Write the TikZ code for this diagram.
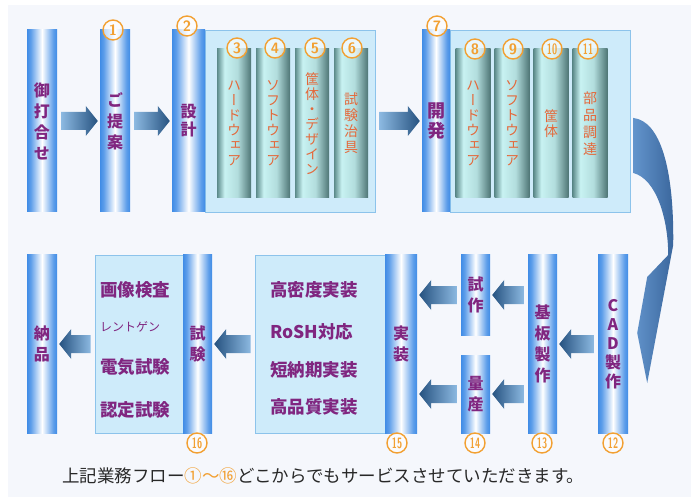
\documentclass[tikz,border=0pt]{standalone}
\usepackage{fontspec}
\usetikzlibrary{calc}
\newfontfamily\jp{Noto Sans CJK JP}
\newfontfamily\jpv[RawFeature=+vert]{Noto Sans CJK JP}

\definecolor{pblue}{RGB}{64,140,230}
\definecolor{tdark}{RGB}{92,138,138}
\definecolor{tlight}{RGB}{200,242,242}
\definecolor{boxfill}{RGB}{206,235,250}
\definecolor{boxline}{RGB}{140,195,235}
\definecolor{purp}{RGB}{128,38,128}
\definecolor{orng}{RGB}{228,104,58}
\definecolor{numo}{RGB}{242,160,50}
\definecolor{alight}{RGB}{140,185,225}
\definecolor{adark}{RGB}{38,82,128}
\definecolor{cdark}{RGB}{58,102,156}
\definecolor{clight}{RGB}{98,148,204}
\definecolor{bgpanel}{RGB}{245,247,252}
\definecolor{captxt}{RGB}{40,40,40}

\pgfdeclarehorizontalshading{bluepil}{100bp}{color(0bp)=(pblue); color(25bp)=(pblue); color(31bp)=(pblue!85); color(50bp)=(white); color(69bp)=(pblue!85); color(75bp)=(pblue); color(100bp)=(pblue)}
\pgfdeclarehorizontalshading{tealpil}{100bp}{color(0bp)=(tdark); color(25bp)=(tdark); color(36bp)=(tlight); color(55bp)=(tlight!80!tdark); color(75bp)=(tdark!85!black); color(100bp)=(tdark!85!black)}

% block arrows, drawn from node to node
\newcommand{\rarrow}[2]{%
	\shade[left color=alight,right color=adark]
		($(#1)+(4,9)$) -- ($(#2)+(-14,9)$) -- ($(#2)+(-14,15)$) -- ($(#2)+(-2,0)$)
		-- ($(#2)+(-14,-15)$) -- ($(#2)+(-14,-9)$) -- ($(#1)+(4,-9)$) -- cycle;}
\newcommand{\larrow}[2]{%
	\shade[left color=adark,right color=alight]
		($(#1)+(-4,9)$) -- ($(#2)+(14,9)$) -- ($(#2)+(14,15)$) -- ($(#2)+(2,0)$)
		-- ($(#2)+(14,-15)$) -- ($(#2)+(14,-9)$) -- ($(#1)+(-4,-9)$) -- cycle;}

\begin{document}
\begin{tikzpicture}[x=1pt,y=1pt,
	bpil/.style={shade,shading=bluepil,minimum width=30pt,minimum height=182pt,text=purp,align=center,font=\jpv\bfseries\fontsize{16}{21}\selectfont},
	tpil/.style={shade,shading=tealpil,minimum width=34pt,minimum height=149pt,text=orng,align=center,font=\jpv\fontsize{14}{15}\selectfont},
	gbox/.style={fill=boxfill,draw=boxline,line width=0.8pt},
	numc/.style={circle,draw=numo,line width=1.4pt,fill=white,fill opacity=0.6,text opacity=1,text=numo,minimum size=20pt,font=\sffamily\bfseries\fontsize{15}{15}\selectfont},
	lst/.style={anchor=west,text=purp,font=\jp\bfseries\fontsize{17.5}{17.5}\selectfont}]
				\tikzstyle{every node}+=[inner sep=0pt]
				\useasboundingbox (0,0) rectangle (691,-497);
				\fill [white] (0,0) rectangle (691,-497);
				\fill [bgpanel] (8,-5) rectangle (691,-497);
				% top row
				\draw (290,-121) node [gbox,minimum width=170pt,minimum height=182pt] (grp1) {};
				\draw (540,-121) node [gbox,minimum width=180pt,minimum height=182pt] (grp2) {};
				\draw (42,-121) node [bpil] (uchi) {御\\打\\合\\せ};
				\draw (115,-121) node [bpil] (teian) {ご\\提\\案};
				\draw (188.5,-121) node [bpil,minimum width=33pt,font=\jpv\bfseries\fontsize{16}{18}\selectfont] (sekkei) {設\\計};
				\draw (234,-123.5) node [tpil] (hard1) {ハ\\ー\\ド\\ウ\\ェ\\ア};
				\draw (273,-123.5) node [tpil] (soft1) {ソ\\フ\\ト\\ウ\\ェ\\ア};
				\draw (312,-123.5) node [tpil] (kyou1) {筐\\体\\・\\デ\\ザ\\イ\\ン};
				\draw (351,-123.5) node [tpil,font=\jpv\fontsize{14}{16}\selectfont] (jig) {試\\験\\治\\具};
				\draw (436,-121) node [bpil,minimum width=28pt,font=\jpv\bfseries\fontsize{18}{20}\selectfont] (kaihatsu) {開\\発};
				\draw (473,-123.5) node [tpil,minimum width=35pt] (hard2) {ハ\\ー\\ド\\ウ\\ェ\\ア};
				\draw (512,-123.5) node [tpil,minimum width=35pt] (soft2) {ソ\\フ\\ト\\ウ\\ェ\\ア};
				\draw (551,-123.5) node [tpil,minimum width=35pt] (kyou2) {筐\\体};
				\draw (590,-123.5) node [tpil,minimum width=35pt,font=\jpv\fontsize{14}{17}\selectfont] (buhin) {部\\品\\調\\達};
				% bottom row
				\draw (139,-344) node [gbox,minimum width=88pt,minimum height=178pt] (kbox) {};
				\draw (320,-344) node [gbox,minimum width=130pt,minimum height=178pt] (jbox) {};
				\draw (42,-344) node [bpil,minimum height=178pt] (nouhin) {納\\品};
				\draw (197.5,-344) node [bpil,minimum width=29pt,minimum height=178pt] (shiken) {試\\験};
				\draw (401,-344) node [bpil,minimum width=32pt,minimum height=178pt] (jissou) {実\\装};
				\draw (475.5,-295) node [bpil,minimum width=29pt,minimum height=80pt] (shisaku) {試\\作};
				\draw (475.5,-394) node [bpil,minimum width=29pt,minimum height=78pt] (ryousan) {量\\産};
				\draw (542.5,-344) node [bpil,minimum width=29pt,minimum height=178pt] (kiban) {基\\板\\製\\作};
				\draw (613,-344) node [bpil,minimum height=178pt,font=\jpv\bfseries\fontsize{16}{19}\selectfont] (cad) {C\\A\\D\\製\\作};
				\draw (100,-290) node [lst] (kensa) {画像検査};
				\draw (100,-327) node [lst,font=\jp\fontsize{12}{12}\selectfont] (xray) {レントゲン};
				\draw (100,-367) node [lst] (denki) {電気試験};
				\draw (100,-410) node [lst] (nintei) {認定試験};
				\draw (270,-290) node [lst] (koumitsu) {高密度実装};
				\draw (270,-332) node [lst] (rosh) {RoSH対応};
				\draw (270,-370) node [lst] (tannouki) {短納期実装};
				\draw (270,-407) node [lst] (hinshitsu) {高品質実装};
				% arrows
				\rarrow{uchi.east}{teian.west}
				\rarrow{teian.east}{sekkei.west}
				\rarrow{grp1.east}{kaihatsu.west}
				\larrow{kbox.west}{nouhin.east}
				\larrow{jbox.west}{shiken.east}
				\larrow{shisaku.west}{jissou.east |- shisaku.west}
				\larrow{ryousan.west}{jissou.east |- ryousan.west}
				\larrow{kiban.west |- shisaku.east}{shisaku.east}
				\larrow{kiban.west |- ryousan.east}{ryousan.east}
				\larrow{cad.west}{kiban.east}
				\shade [left color=clight,right color=cdark] ($(grp2.east)+(3,3)$)
					.. controls ($(grp2.east)+(30,0)$) and ($(cad.east)+(46,175)$) .. ($(cad.east)+(45,99)$)
					-- ($(cad.east)+(19,-39)$) -- ($(cad.east)+(9,11)$) -- ($(cad.east)+(19,67)$) -- ($(cad.east)+(40,89)$)
					.. controls ($(cad.east)+(40,125)$) and ($(grp2.east)+(26,-58)$) .. ($(grp2.east)+(3,-52)$) -- cycle;
				% step numbers
				\draw (113,-30) node [numc] (n1) {1};
				\draw (187,-26) node [numc] (n2) {2};
				\draw (237,-48) node [numc] (n3) {3};
				\draw (275,-48) node [numc] (n4) {4};
				\draw (315,-48) node [numc] (n5) {5};
				\draw (352,-48) node [numc] (n6) {6};
				\draw (437,-26) node [numc] (n7) {7};
				\draw (475,-49) node [numc] (n8) {8};
				\draw (513,-49) node [numc] (n9) {9};
				\draw (552,-49) node [numc] (n10) {\scalebox{0.62}[1]{10}};
				\draw (588,-49) node [numc] (n11) {\scalebox{0.62}[1]{11}};
				\draw (613,-443) node [numc] (n12) {\scalebox{0.62}[1]{12}};
				\draw (542,-443) node [numc] (n13) {\scalebox{0.62}[1]{13}};
				\draw (475,-443) node [numc] (n14) {\scalebox{0.62}[1]{14}};
				\draw (397,-443) node [numc] (n15) {\scalebox{0.62}[1]{15}};
				\draw (197,-443) node [numc] (n16) {\scalebox{0.62}[1]{16}};
				\draw (62,-476) node [anchor=west,text=captxt,font=\jp\fontsize{17.5}{17.5}\selectfont] (cap) {上記業務フロー\textcolor{numo}{①～⑯}どこからでもサービスさせていただきます。};
\end{tikzpicture}
\end{document}
